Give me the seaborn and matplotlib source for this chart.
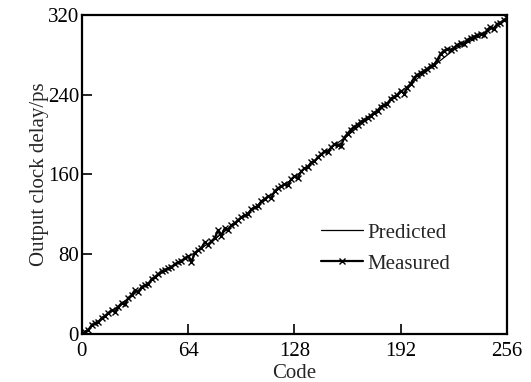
import numpy as np
import pandas as pd
import matplotlib
matplotlib.use("Agg")
import matplotlib.pyplot as plt
import seaborn as sns

# predicted delay, every 16 codes
pred_code = list(range(0, 257, 16))
pred_delay = [0, 20, 41, 61, 77, 95, 116, 137, 157, 179, 199, 221, 243, 264, 285, 299, 316]

# measured delay, every 2 codes
meas_code = list(range(0, 257, 2))
meas_delay = [
    0, 2, 4, 9, 11, 12, 16, 18,
    21, 24, 22, 27, 31, 30, 36, 39,
    44, 42, 47, 49, 50, 55, 57, 60,
    63, 64, 66, 67, 70, 72, 73, 76,
    78, 72, 81, 84, 86, 92, 89, 93,
    96, 104, 98, 106, 104, 109, 111, 114,
    117, 119, 120, 125, 127, 128, 133, 135,
    138, 136, 143, 146, 148, 150, 149, 155,
    158, 156, 163, 166, 167, 172, 173, 177,
    180, 183, 182, 187, 190, 189, 188, 197,
    201, 205, 208, 210, 213, 215, 217, 219,
    222, 224, 228, 230, 231, 236, 238, 240,
    244, 241, 247, 251, 257, 260, 262, 264,
    266, 269, 270, 275, 281, 284, 286, 285,
    287, 290, 292, 291, 295, 297, 298, 300,
    301, 300, 305, 308, 306, 311, 312, 315, 317,
]

sns.set_style("ticks")
plt.rcParams['font.family'] = ['Liberation Serif', 'DejaVu Serif']

fig = plt.figure(figsize=(5.31, 3.82), dpi=100)
ax = fig.add_axes([0.154, 0.126, 0.801, 0.835])

df_pred = pd.DataFrame({'code': pred_code, 'delay': pred_delay})
df_meas = pd.DataFrame({'code': meas_code, 'delay': meas_delay})

sns.lineplot(data=df_meas, x='code', y='delay', ax=ax, color='black', linewidth=1.6,
             linestyle='-', marker='x', markersize=5, markeredgewidth=1.0,
             markeredgecolor='black', label='Measured')
sns.lineplot(data=df_pred, x='code', y='delay', ax=ax, color='black', linewidth=0.9,
             label='Predicted')

ax.set_xlim(0, 256)
ax.set_ylim(0, 320)
ax.set_xticks([0, 64, 128, 192, 256])
ax.set_yticks([0, 80, 160, 240, 320])
ax.tick_params(direction='in', length=7, width=1.2, labelsize=15, colors='black',
               top=False, right=False)
ax.tick_params(axis='x', pad=6)
ax.tick_params(axis='y', pad=2)
for s in ax.spines.values():
    s.set_linewidth(1.6)
    s.set_color('black')
ax.set_xlabel('Code', fontsize=15, labelpad=2)
ax.set_ylabel('Output clock delay/ps', fontsize=15, labelpad=-1)

h, l = ax.get_legend_handles_labels()
leg = ax.legend(h[::-1], l[::-1], loc='lower right', bbox_to_anchor=(0.91, 0.13),
                frameon=False, fontsize=15, handlelength=2.0, handletextpad=0.2,
                labelspacing=0.55, numpoints=1)

fig.savefig('out.png', dpi=100)
